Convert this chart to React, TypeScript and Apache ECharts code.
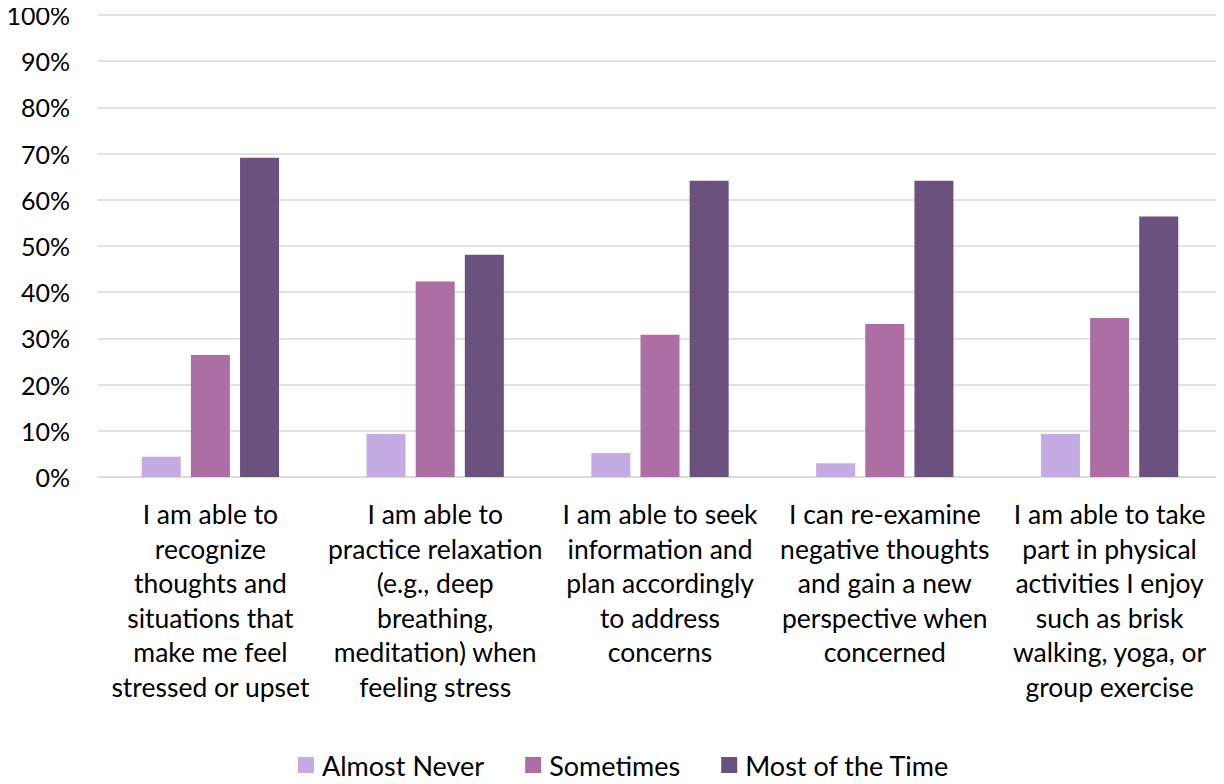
import React, { useEffect, useRef } from "react";
import * as echarts from "echarts";

const categories = [
  "I am able to\nrecognize\nthoughts and\nsituations that\nmake me feel\nstressed or upset",
  "I am able to\npractice relaxation\n(e.g., deep\nbreathing,\nmeditation) when\nfeeling stress",
  "I am able to seek\ninformation and\nplan accordingly\nto address\nconcerns",
  "I can re-examine\nnegative thoughts\nand gain a new\nperspective when\nconcerned",
  "I am able to take\npart in physical\nactivities I enjoy\nsuch as brisk\nwalking, yoga, or\ngroup exercise",
];
const seriesNames = ["Almost Never", "Sometimes", "Most of the Time"];
const almostNever = [4.4, 9.3, 5.2, 3.0, 9.3];
const sometimes = [26.4, 42.3, 30.8, 33.1, 34.4];
const mostOfTheTime = [69.1, 48.1, 64.1, 64.1, 56.4];
const colors = ["#C5ABE3", "#AC6EA3", "#6B527E"];

export default function App() {
  const ref = useRef<HTMLDivElement>(null);
  useEffect(() => {
    if (!ref.current) return;
    const chart = echarts.init(ref.current, null, { renderer: "svg" });
    const font = "Lato, 'Open Sans', sans-serif";
    const data = [almostNever, sometimes, mostOfTheTime];
    chart.setOption({
      animation: false,
      textStyle: { fontFamily: font },
      grid: { left: 98, right: 2, top: 15, bottom: 307, containLabel: false },
      legend: {
        top: 751,
        left: 298,
        padding: 0,
        itemWidth: 16,
        itemHeight: 16,
        itemGap: 41,
        icon: "rect",
        textStyle: { fontSize: 27, lineHeight: 28, color: "#000", fontFamily: font, padding: [0, 0, 0, 3] },
        data: seriesNames,
      },
      xAxis: {
        type: "category",
        data: categories,
        axisTick: { show: false },
        axisLine: { lineStyle: { color: "#d9d9d9", width: 1.5 } },
        axisLabel: {
          interval: 0,
          fontSize: 26.5,
          lineHeight: 34.5,
          color: "#000",
          margin: 20,
          fontFamily: font,
        },
      },
      yAxis: {
        type: "value",
        min: 0,
        max: 100,
        interval: 10,
        axisLine: { show: false },
        axisTick: { show: false },
        splitLine: { lineStyle: { color: "#d9d9d9", width: 1.5 } },
        axisLabel: {
          formatter: "{value}%",
          fontSize: 25,
          color: "#000",
          margin: 28,
          fontFamily: font,
        },
      },
      series: seriesNames.map((name, i) => ({
        name,
        type: "bar",
        data: data[i],
        barWidth: 39,
        barGap: "26%",
        itemStyle: { color: colors[i] },
      })),
    });
    return () => chart.dispose();
  }, []);
  return <div ref={ref} style={{ width: 1224, height: 784, margin: -8 }} />;
}
